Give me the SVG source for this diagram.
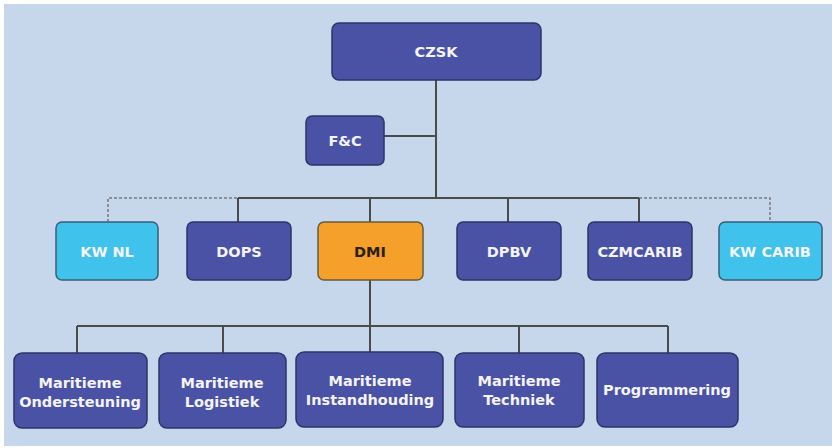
<svg xmlns="http://www.w3.org/2000/svg" width="832" height="448" viewBox="0 0 832 448">
<defs>
<style>
.n rect{fill:#4a52a6;stroke:#2e3468;stroke-width:1.5}
.lb rect{fill:#3fc2ec;stroke:#3a5f78;stroke-width:1.5}
.or rect{fill:#f4a02a;stroke:#6a5a3a;stroke-width:1.5}
text{font-family:"DejaVu Sans","Liberation Sans",sans-serif;font-weight:bold;font-size:14.5px;fill:#f4f4fa;text-anchor:middle}
.or text{fill:#2a2010}
.c line,.c path{stroke:#4b4b4b;stroke-width:2;fill:none}
.c .d{stroke:#7a7a7a;stroke-width:1.5;stroke-dasharray:3 2}
</style>
</defs>
<rect x="0" y="0" width="832" height="448" fill="#ffffff"/>
<rect x="4" y="4" width="828" height="442" fill="#c6d7ec"/>
<g id="connectors" class="c">
<line x1="436" y1="80" x2="436" y2="198"/>
<line x1="384" y1="136" x2="436" y2="136"/>
<line x1="238" y1="198" x2="639" y2="198"/>
<path class="d" d="M108 222 V198 H238"/>
<path class="d" d="M639 198 H770 V222"/>
<line x1="238" y1="198" x2="238" y2="222"/>
<line x1="370" y1="198" x2="370" y2="222"/>
<line x1="508" y1="198" x2="508" y2="222"/>
<line x1="639" y1="198" x2="639" y2="222"/>
<line x1="370" y1="280" x2="370" y2="352"/>
<line x1="77" y1="326" x2="668" y2="326"/>
<line x1="77" y1="326" x2="77" y2="353"/>
<line x1="223" y1="326" x2="223" y2="353"/>
<line x1="519" y1="326" x2="519" y2="353"/>
<line x1="668" y1="326" x2="668" y2="353"/>
</g>
<g id="czsk" class="n"><rect x="332" y="23" width="209" height="57" rx="7"/><text x="436" y="57">CZSK</text></g>
<g id="fc" class="n"><rect x="306" y="116" width="78" height="49" rx="6"/><text x="345" y="146">F&amp;C</text></g>
<g id="kwnl" class="lb"><rect x="56" y="222" width="102" height="58" rx="6"/><text x="107" y="257">KW NL</text></g>
<g id="dops" class="n"><rect x="187" y="222" width="104" height="58" rx="6"/><text x="239" y="257">DOPS</text></g>
<g id="dmi" class="or"><rect x="318" y="222" width="105" height="58" rx="6"/><text x="370" y="257">DMI</text></g>
<g id="dpbv" class="n"><rect x="457" y="222" width="104" height="58" rx="6"/><text x="509" y="257">DPBV</text></g>
<g id="czmcarib" class="n"><rect x="588" y="222" width="104" height="58" rx="6"/><text x="640" y="257">CZMCARIB</text></g>
<g id="kwcarib" class="lb"><rect x="719" y="222" width="103" height="58" rx="6"/><text x="770" y="257">KW CARIB</text></g>
<g id="ondersteuning" class="n"><rect x="14" y="353" width="133" height="75" rx="8"/><text x="80" y="388">Maritieme</text><text x="80" y="407">Ondersteuning</text></g>
<g id="logistiek" class="n"><rect x="159" y="353" width="127" height="75" rx="8"/><text x="222" y="388">Maritieme</text><text x="222" y="407">Logistiek</text></g>
<g id="instandhouding" class="n"><rect x="296" y="352" width="147" height="75" rx="8"/><text x="370" y="386">Maritieme</text><text x="370" y="405">Instandhouding</text></g>
<g id="techniek" class="n"><rect x="455" y="353" width="129" height="74" rx="8"/><text x="519" y="386">Maritieme</text><text x="519" y="405">Techniek</text></g>
<g id="programmering" class="n"><rect x="597" y="353" width="141" height="74" rx="8"/><text x="667" y="395">Programmering</text></g>
</svg>
